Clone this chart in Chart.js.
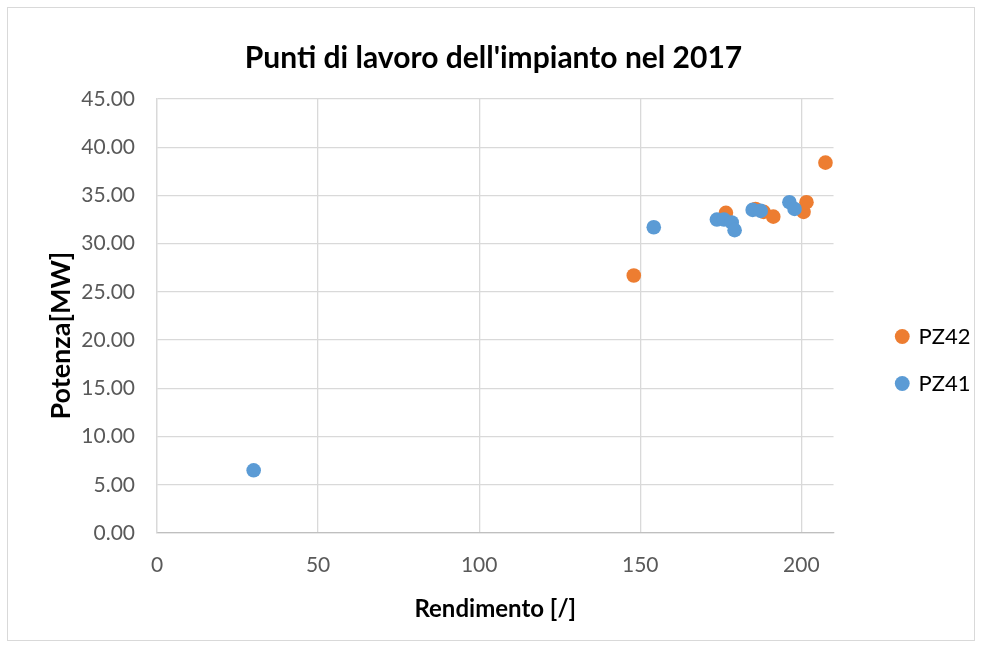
<!DOCTYPE html>
<html>
<head>
<meta charset="utf-8">
<script src="https://cdn.jsdelivr.net/npm/chart.js@4.4.1/dist/chart.umd.min.js"></script>
<style>
  html, body { margin: 0; padding: 0; background: #fff; }
  #wrap { position: absolute; left: 0; top: 0; width: 983px; height: 648px; }
  #frame { position: absolute; left: 7px; top: 7px; width: 966px; height: 632px; border: 1px solid #d9d9d9; }
  canvas { position: absolute; left: 0; top: 0; }
</style>
</head>
<body>
<div id="wrap">
  <div id="frame"></div>
  <canvas id="chart" width="983" height="648"></canvas>
</div>
<script>
  var pz42X = [148.0, 176.6, 185.8, 188.3, 191.3, 200.7, 201.6, 207.5];
  var pz42Y = [26.7, 33.2, 33.6, 33.3, 32.8, 33.3, 34.3, 38.4];
  var pz41X = [30.0, 154.2, 173.8, 176.0, 178.4, 179.3, 184.9, 187.4, 196.3, 197.9];
  var pz41Y = [6.5, 31.7, 32.5, 32.5, 32.2, 31.4, 33.5, 33.4, 34.3, 33.6];

  var seriesNames = ['PZ42', 'PZ41'];
  var xTitle = 'Rendimento [/]';
  var yTitle = 'Potenza[MW]      '; // trailing blanks push the label down a bit
  var chartTitle = "Punti di lavoro dell'impianto nel 2017";

  function pts(xs, ys) {
    return xs.map(function (x, i) { return { x: x, y: ys[i] }; });
  }

  var font = 'Lato, "Open Sans", sans-serif';

  // nudge the legend away from the plot, the way Excel places it
  var legendShift = {
    id: 'legendShift',
    afterLayout: function (chart) {
      var lg = chart.legend;
      var dx = 897 - (lg.left + 25);
      var dy = 360 - (lg.top + lg.height / 2);
      lg.left += dx; lg.right += dx;
      lg.top += dy; lg.bottom += dy;
    }
  };

  new Chart(document.getElementById('chart').getContext('2d'), {
    type: 'scatter',
    data: {
      datasets: [
        {
          label: seriesNames[0],
          data: pts(pz42X, pz42Y),
          backgroundColor: '#ED7D31',
          borderColor: '#ED7D31',
          pointRadius: 7.3,
          pointBorderWidth: 0,
          order: 1
        },
        {
          label: seriesNames[1],
          data: pts(pz41X, pz41Y),
          backgroundColor: '#5B9BD5',
          borderColor: '#5B9BD5',
          pointRadius: 7.3,
          pointBorderWidth: 0,
          order: 0
        }
      ]
    },
    options: {
      responsive: false,
      animation: false,
      layout: { padding: { left: 45, right: 41, top: 40, bottom: 24 } },
      scales: {
        x: {
          type: 'linear',
          min: 0,
          max: 210,
          ticks: {
            stepSize: 50,
            includeBounds: false,
            color: '#595959',
            padding: 20,
            font: { family: font, size: 21 }
          },
          grid: { color: '#d9d9d9', lineWidth: 1.3, drawTicks: false },
          border: { color: '#bfbfbf', width: 1.3 },
          title: {
            display: true,
            text: xTitle,
            color: '#000',
            font: { family: font, size: 24, weight: 'bold' },
            padding: { top: -3, bottom: 0 }
          }
        },
        y: {
          min: 0,
          max: 45,
          ticks: {
            stepSize: 5,
            color: '#595959',
            padding: 22,
            font: { family: font, size: 21 },
            callback: function (v) { return v.toFixed(2); }
          },
          grid: { color: '#d9d9d9', lineWidth: 1.3, drawTicks: false },
          border: { color: '#d9d9d9', width: 1.3 },
          title: {
            display: true,
            text: yTitle,
            color: '#000',
            font: { family: font, size: 27, weight: 'bold' },
            padding: { top: 0, bottom: 10 }
          },
          afterFit: function (scale) { scale.width = 112; }
        }
      },
      plugins: {
        title: {
          display: true,
          text: chartTitle,
          color: '#000',
          font: { family: font, size: 30, weight: 'bold' },
          padding: { top: 0, bottom: 23 }
        },
        legend: {
          position: 'right',
          labels: {
            usePointStyle: true,
            pointStyle: 'circle',
            boxWidth: 10.5,
            boxHeight: 10.5,
            padding: 25,
            color: '#000',
            font: { family: font, size: 22 },
            sort: function (a, b) { return a.datasetIndex - b.datasetIndex; }
          }
        },
        tooltip: { enabled: false }
      }
    },
    plugins: [legendShift]
  });
</script>
</body>
</html>
